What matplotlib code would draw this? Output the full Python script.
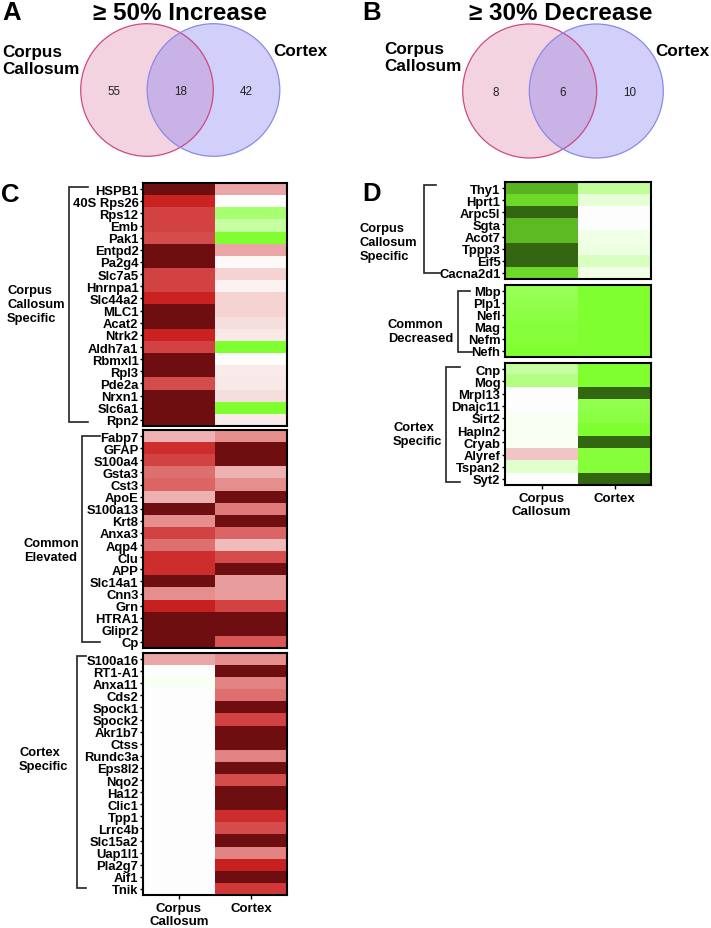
import numpy as np
import matplotlib
matplotlib.use('Agg')
import matplotlib.pyplot as plt
from matplotlib.colors import LinearSegmentedColormap, Normalize
from matplotlib.patches import Circle

plt.rcParams['font.family'] = ['Liberation Sans', 'DejaVu Sans']

# ---------------- data ----------------
columns = ["Corpus\nCallosum", "Cortex"]

venn_a_counts = [55, 18, 42]
venn_b_counts = [8, 6, 10]

c1_genes = ["HSPB1", "40S Rps26", "Rps12", "Emb", "Pak1", "Entpd2", "Pa2g4", "Slc7a5",
            "Hnrnpa1", "Slc44a2", "MLC1", "Acat2", "Ntrk2", "Aldh7a1", "Rbmxl1", "Rpl3",
            "Pde2a", "Nrxn1", "Slc6a1", "Rpn2"]
c1_cc = [2.0, 1.0, 0.85, 0.85, 0.8, 2.0, 2.0, 0.85, 0.85, 1.0, 2.0, 2.0, 1.0, 0.85, 2.0, 2.0,
         0.8, 2.0, 2.0, 2.0]
c1_cx = [0.4, 0.0, -0.7, -0.45, -1.0, 0.4, 0.03, 0.2, 0.05, 0.2, 0.2, 0.15, 0.1, -1.0, 0.0, 0.08,
         0.1, 0.15, -1.0, 0.08]

c2_genes = ["Fabp7", "GFAP", "S100a4", "Gsta3", "Cst3", "ApoE", "S100a13", "Krt8", "Anxa3",
            "Aqp4", "Clu", "APP", "Slc14a1", "Cnn3", "Grn", "HTRA1", "Glipr2", "Cp"]
c2_cc = [0.35, 0.95, 0.85, 0.65, 0.7, 0.35, 2.0, 0.5, 0.85, 0.65, 0.95, 0.95, 2.0, 0.5, 1.05,
         2.0, 2.0, 2.0]
c2_cx = [0.5, 2.0, 2.0, 0.35, 0.5, 2.0, 0.6, 2.0, 0.7, 0.3, 0.8, 2.0, 0.45, 0.45, 0.85,
         2.0, 2.0, 0.75]

c3_genes = ["S100a16", "RT1-A1", "Anxa11", "Cds2", "Spock1", "Spock2", "Akr1b7", "Ctss",
            "Rundc3a", "Eps8l2", "Nqo2", "Ha12", "Clic1", "Tpp1", "Lrrc4b", "Slc15a2",
            "Uap1l1", "Pla2g7", "Aif1", "Tnik"]
c3_cc = [0.4, 0.0, -0.05, 0.0, 0.0, 0.0, 0.0, 0.0, 0.0, 0.0, 0.0, 0.0, 0.0, 0.0, 0.0, 0.0,
         0.0, 0.0, 0.0, 0.0]
c3_cx = [0.5, 2.0, 0.55, 0.65, 2.0, 0.85, 2.0, 2.0, 0.55, 2.0, 0.8, 2.0, 2.0, 0.95, 0.8, 2.0,
         0.55, 1.05, 2.0, 0.9]

d1_genes = ["Thy1", "Hprt1", "Arpc5l", "Sgta", "Acot7", "Tppp3", "Eif5", "Cacna2d1"]
d1_cc = [-1.5, -1.25, -2.0, -1.45, -1.45, -2.0, -2.0, -1.25]
d1_cx = [-0.5, -0.2, 0.0, 0.0, -0.12, -0.15, -0.3, -0.12]

d2_genes = ["Mbp", "Plp1", "Nefl", "Mag", "Nefm", "Nefh"]
d2_cc = [-0.8, -0.85, -0.9, -0.95, -0.95, -1.0]
d2_cx = [-1.0, -1.0, -1.0, -1.0, -1.0, -1.0]

d3_genes = ["Cnp", "Mog", "Mrpl13", "Dnajc11", "Sirt2", "Hapln2", "Cryab", "Alyref", "Tspan2", "Syt2"]
d3_cc = [-0.45, -0.6, 0.0, 0.0, -0.05, -0.05, -0.05, 0.25, -0.25, 0.0]
d3_cx = [-1.0, -1.0, -2.0, -0.85, -0.9, -1.0, -2.0, -0.95, -0.95, -2.0]

# ---------------- figure ----------------
W, H = 711, 929
fig = plt.figure(figsize=(W / 100, H / 100), dpi=100)

cmap = LinearSegmentedColormap.from_list(
    "gw_r", [(0.0, "#336611"), (0.25, "#80FF30"), (0.5, "#FFFFFF"),
             (0.75, "#CC2222"), (1.0, "#6E0E10")])
norm = Normalize(vmin=-2, vmax=2)


def ax_px(x0, y0, x1, y1):
    return fig.add_axes([x0 / W, 1 - y1 / H, (x1 - x0) / W, (y1 - y0) / H])


def heat(box, genes, cc, cx, show_x):
    ax = ax_px(*box)
    data = np.column_stack([cc, cx])
    ax.imshow(data, cmap=cmap, norm=norm, aspect='auto', interpolation='nearest')
    ax.set_yticks(range(len(genes)))
    ax.set_yticklabels(genes, fontweight='bold', fontsize=9.4)
    ax.tick_params(axis='y', length=2.5, width=1, pad=0.8)
    if show_x:
        ax.set_xticks([0, 1])
        ax.set_xticklabels(columns, fontweight='bold', fontsize=9.5, linespacing=1.1)
        ax.tick_params(axis='x', length=3, width=1, pad=2)
    else:
        ax.set_xticks([])
    for s in ax.spines.values():
        s.set_linewidth(1.5)
    return ax


heat((143, 184, 287, 427), c1_genes, c1_cc, c1_cx, False)
heat((143, 431, 287, 649), c2_genes, c2_cc, c2_cx, False)
heat((143, 654, 287, 896), c3_genes, c3_cc, c3_cx, True)
heat((505, 183, 651, 280), d1_genes, d1_cc, d1_cx, False)
heat((505, 286, 651, 358), d2_genes, d2_cc, d2_cx, False)
heat((505, 364, 651, 486), d3_genes, d3_cc, d3_cx, True)

# ---------------- overlay (venns, brackets, labels) ----------------
ov = fig.add_axes([0, 0, 1, 1], zorder=5)
ov.set_xlim(0, W)
ov.set_ylim(H, 0)
ov.axis('off')
ov.patch.set_alpha(0)

pink_fill, pink_edge = (0.86, 0.39, 0.59, 0.28), "#CC4A80"
blue_fill, blue_edge = (0.40, 0.40, 0.95, 0.30), "#8A8AE6"


def venn(cl, cr, cy, r, counts):
    ov.add_patch(Circle((cl, cy), r, facecolor=pink_fill, edgecolor='none'))
    ov.add_patch(Circle((cr, cy), r, facecolor=blue_fill, edgecolor='none'))
    ov.add_patch(Circle((cl, cy), r, facecolor='none', edgecolor=pink_edge, lw=0.9))
    ov.add_patch(Circle((cr, cy), r, facecolor='none', edgecolor=blue_edge, lw=0.9))
    xs = [cl - r / 2, (cl + cr) / 2, cr + r / 2]
    for x, n in zip(xs, counts):
        ov.text(x, cy + 1, str(n), ha='center', va='center', fontsize=8.4, color='#222222')


venn(147, 213.5, 91, 66.3, venn_a_counts)
venn(529.7, 596.3, 92, 67, venn_b_counts)

bold = dict(fontweight='bold', color='black')
ov.text(2, 13, "A", fontsize=18.5, ha='left', va='center', **bold)
ov.text(180, 13, "≥ 50% Increase", fontsize=17.5, ha='center', va='center', **bold)
ov.text(362, 13, "B", fontsize=18.5, ha='left', va='center', **bold)
ov.text(561, 13, "≥ 30% Decrease", fontsize=17.5, ha='center', va='center', **bold)

ov.text(2, 61, "Corpus\nCallosum", fontsize=12.3, ha='left', va='center', linespacing=1.1, **bold)
ov.text(273, 51, "Cortex", fontsize=12.3, ha='left', va='center', **bold)
ov.text(384, 58, "Corpus\nCallosum", fontsize=12.3, ha='left', va='center', linespacing=1.1, **bold)
ov.text(655, 51, "Cortex", fontsize=12.3, ha='left', va='center', **bold)

ov.text(1, 195, "C", fontsize=18.5, ha='left', va='center', **bold)
ov.text(362, 194, "D", fontsize=18.5, ha='left', va='center', **bold)


def bracket(x, y0, y1, xt, xb):
    ov.plot([xt, x, x, xb], [y0, y0, y1, y1], color='#222222', lw=1.2,
            solid_joinstyle='miter')


bracket(69, 188, 423, 88, 88)
bracket(82, 437, 643, 100, 100)
bracket(77, 657, 889, 86, 86)
bracket(424, 186, 274, 436, 440)
bracket(458, 292, 353, 470, 472)
bracket(446, 368, 483, 460, 460)

glab = dict(fontsize=9.3, ha='left', va='center', linespacing=1.25, **bold)
ov.text(7, 305, "Corpus\nCallosum\nSpecific", **glab)
ov.text(24, 551, "Common\nElevated", **glab)
ov.text(19, 760, "Cortex\nSpecific", **glab)
ov.text(360, 243, "Corpus\nCallosum\nSpecific", **glab)
ov.text(388, 332, "Common\nDecreased", **glab)
ov.text(393, 435, "Cortex\nSpecific", **glab)

fig.savefig("out.png", dpi=100)
